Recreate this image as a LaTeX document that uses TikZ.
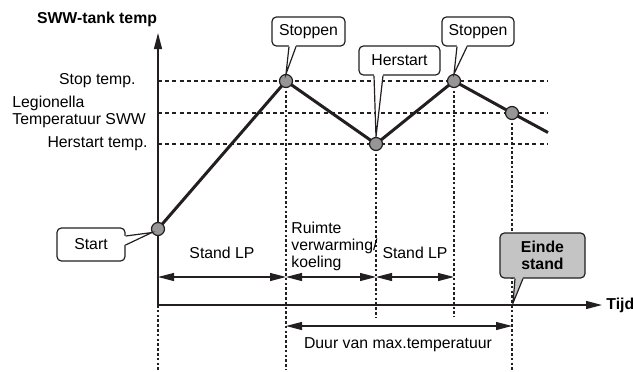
\documentclass[tikz,border=0pt]{standalone}
\usepackage{fontspec}
\setmainfont{Liberation Sans}
\usetikzlibrary{positioning,calc}
\usetikzlibrary{arrows.meta}
\definecolor{InkGray}{RGB}{35,31,32}
\definecolor{DotGray}{RGB}{150,150,150}
\definecolor{BoxGray}{RGB}{196,196,196}
\tikzset{
  dot/.style={circle,draw=InkGray,fill=DotGray,line width=0.6pt,inner sep=0pt,minimum size=6.5pt},
  curve/.style={draw=InkGray,line width=1.5pt,line join=round},
  axis/.style={draw=InkGray,line width=0.65pt,-{Triangle[length=8pt,width=4pt]}},
  level/.style={draw=InkGray,line width=0.65pt,dash pattern=on 2pt off 1.6pt},
  mark line/.style={draw=InkGray,line width=0.55pt,dash pattern=on 1.3pt off 1.1pt},
  span/.style={draw=InkGray,line width=0.55pt,{Triangle[length=8pt,width=4pt]}-{Triangle[length=8pt,width=4pt]}},
  bubble/.style={draw=InkGray,fill=white,rounded corners=2.2pt,line width=0.6pt,
    inner sep=0pt,minimum height=14.5pt,align=center},
  tailfill/.style={fill=white},
  tailline/.style={draw=InkGray,line width=0.6pt,line join=miter},
}

\begin{document}
\begin{tikzpicture}[x=0.5pt,y=-0.5pt,font=\fontsize{7.9}{8.3}\selectfont]
\useasboundingbox (0,0) rectangle (633,371);
\coordinate (O) at (158,305);
\coordinate (yTip) at (158,33);
\coordinate (xTip) at (602,305);
\coordinate (c1) at (158,229);
\coordinate (c2) at (286,81);
\coordinate (c3) at (376,144);
\coordinate (c4) at (454,81);
\coordinate (c5) at (512,113);
\coordinate (c6) at (548,132.5);
\coordinate (tEnd) at (513,303);
\draw[level] (158,81) -- (548,81);
\draw[level] (158,113) -- (548,113);
\draw[level] (158,144) -- (548,144);
\draw[mark line] (O) -- (158,370);
\draw[mark line] (c2) -- (286,370);
\draw[mark line] (c3) -- (376,317);
\draw[mark line] (c4) -- (454,317);
\draw[mark line] (c5) -- (512,370);
\draw[axis] (O) -- (yTip);
\draw[axis] (O) -- (xTip);
\draw[span] (158,277) -- (286,277);
\draw[span] (286,277) -- (376,277);
\draw[span] (376,277) -- (454,277);
\draw[span] (286,326) -- (512,326);
\draw[curve] (c1) -- (c2) -- (c3) -- (c4) -- (c5) -- (c6);
\node[dot] (pStart) at (c1) {};
\node[dot] (pStop1) at (c2) {};
\node[dot] (pHer) at (c3) {};
\node[dot] (pStop2) at (c4) {};
\node[dot] (pLeg) at (c5) {};
\node[font=\fontsize{7.9}{8.3}\selectfont\bfseries] (yLab) at (97,19) {SWW-tank temp};
\node[font=\fontsize{7.9}{8.3}\selectfont\bfseries,anchor=west,inner sep=0pt] (xLab) at (606,305) {Tijd};
\node[anchor=east,inner sep=0pt] (lStop) at (136,81) {Stop temp.};
\node[anchor=west,inner sep=0pt,align=left] (lLeg) at (12,112) {Legionella\\Temperatuur SWW};
\node[anchor=east,inner sep=0pt] (lHer) at (148,144) {Herstart temp.};
\node (sLP1) at (222,253) {Stand LP};
\node[anchor=west,inner sep=0pt,align=left] (sRV) at (291,246.5) {Ruimte\\verwarming/\\koeling};
\node (sLP2) at (415,253) {Stand LP};
\node (sDuur) at (398,345) {Duur van max.temperatuur};
\node[bubble,minimum width=36.5pt] (bStop1) at (308.5,31.5) {Stoppen};
\node[bubble,minimum width=36pt] (bStop2) at (478,31.5) {Stoppen};
\node[bubble,minimum width=40.5pt] (bHer) at (399.5,60.5) {Herstart};
\node[bubble,minimum width=34pt,minimum height=16.5pt] (bStart) at (91,244.5) {Start};
\node[bubble,fill=BoxGray,minimum width=42.5pt,minimum height=22.5pt,font=\fontsize{7.9}{8.6}\selectfont\bfseries] (bEnd) at (542.5,255.5) {Einde\\stand};
\fill[tailfill] ([xshift=-9.75pt,yshift=0.8pt]bStop1.south) -- (pStop1.north) -- ([xshift=-6.25pt,yshift=0.8pt]bStop1.south) -- cycle;
\draw[tailline] ([xshift=-9.75pt]bStop1.south) -- (pStop1.north) -- ([xshift=-6.25pt]bStop1.south);
\fill[tailfill] ([xshift=-10.5pt,yshift=0.8pt]bStop2.south) -- (pStop2.north) -- ([xshift=-5.5pt,yshift=0.8pt]bStop2.south) -- cycle;
\draw[tailline] ([xshift=-10.5pt]bStop2.south) -- (pStop2.north) -- ([xshift=-5.5pt]bStop2.south);
\fill[tailfill] ([xshift=-12.75pt,yshift=0.8pt]bHer.south) -- (pHer.north) -- ([xshift=-8.25pt,yshift=0.8pt]bHer.south) -- cycle;
\draw[tailline] ([xshift=-12.75pt]bHer.south) -- (pHer.north) -- ([xshift=-8.25pt]bHer.south);
\fill[tailfill] ([xshift=-0.8pt,yshift=4.25pt]bStart.east) -- (pStart.210) -- ([xshift=-0.8pt,yshift=-0.25pt]bStart.east) -- cycle;
\draw[tailline] ([yshift=4.25pt]bStart.east) -- (pStart.210) -- ([yshift=-0.25pt]bStart.east);
\fill[BoxGray] ([xshift=-13.75pt,yshift=0.8pt]bEnd.south) -- (tEnd) -- ([xshift=-9.75pt,yshift=0.8pt]bEnd.south) -- cycle;
\draw[tailline] ([xshift=-13.75pt]bEnd.south) -- (tEnd) -- ([xshift=-9.75pt]bEnd.south);
\end{tikzpicture}
\end{document}
